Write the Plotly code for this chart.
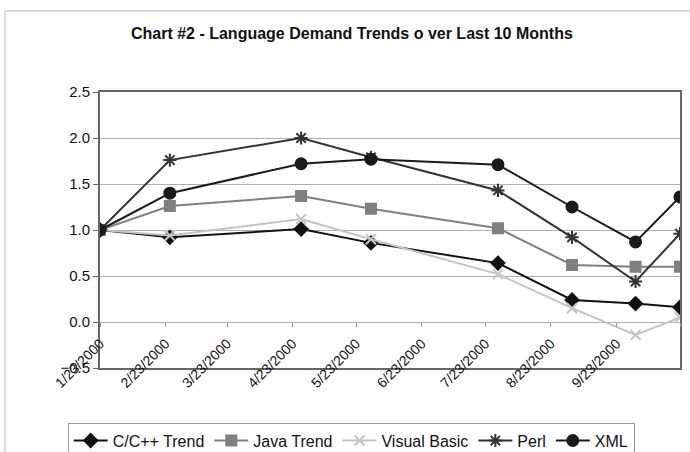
import plotly.graph_objects as go

dates = ["2000-01-23", "2000-02-25", "2000-04-27", "2000-05-30",
         "2000-07-29", "2000-09-02", "2000-10-02", "2000-10-23"]

cpp = [1.0, 0.92, 1.01, 0.86, 0.64, 0.24, 0.20, 0.16]
java = [1.0, 1.26, 1.37, 1.23, 1.02, 0.62, 0.60, 0.60]
vb = [1.0, 0.94, 1.12, 0.90, 0.52, 0.15, -0.14, 0.05]
perl = [1.0, 1.76, 2.00, 1.79, 1.43, 0.92, 0.44, 0.96]
xml = [1.0, 1.40, 1.72, 1.77, 1.71, 1.25, 0.87, 1.36]

tick_dates = ["2000-01-23", "2000-02-23", "2000-03-23", "2000-04-23", "2000-05-23",
              "2000-06-23", "2000-07-23", "2000-08-23", "2000-09-23", "2000-10-23"]
tick_text = ["1/23/2000", "2/23/2000", "3/23/2000", "4/23/2000", "5/23/2000",
             "6/23/2000", "7/23/2000", "8/23/2000", "9/23/2000", ""]

FONT = "Arial, Liberation Sans, sans-serif"

series = [
    ("C/C++ Trend", cpp, "#111111", "diamond", 10),
    ("Java Trend", java, "#808080", "square", 10),
    ("Visual Basic", vb, "#c4c4c4", "x-thin-open", 10),
    ("Perl", perl, "#333333", "asterisk-open", 11),
    ("XML", xml, "#1a1a1a", "circle", 11),
]

fig = go.Figure()
for name, vals, col, sym, size in series:
    fig.add_trace(go.Scatter(
        x=dates, y=vals, name=name, mode="lines+markers",
        line=dict(color=col, width=2),
        marker=dict(symbol=sym, size=size, color=col,
                    line=dict(color=col, width=2)),
    ))

# invisible helper trace so the crossing axis (ticks on the 0.0 line) is drawn
fig.add_trace(go.Scatter(x=dates, y=cpp, xaxis="x2", mode="lines",
                         line=dict(width=0, color="rgba(0,0,0,0)"),
                         showlegend=False, hoverinfo="skip"))

fig.update_layout(
    width=690, height=452,
    margin=dict(l=100, r=10, t=92, b=84, autoexpand=False),
    paper_bgcolor="white", plot_bgcolor="white",
    font=dict(family=FONT, color="#111111", size=14),
    title=dict(text="<b>Chart #2 - Language Demand Trends o ver Last 10 Months</b>",
               x=0.51, xanchor="center", y=0.927, yanchor="middle",
               font=dict(size=16, family=FONT, color="#111111")),
    showlegend=True,
    legend=dict(orientation="h", xref="container", yref="container",
                x=0.509, xanchor="center", y=0.065, yanchor="top",
                bordercolor="#999999", borderwidth=1, bgcolor="white",
                font=dict(size=16, family=FONT), itemwidth=34,
                tracegroupgap=0),
    xaxis=dict(type="date", range=["2000-01-23", "2000-10-23"], automargin=False,
               tickmode="array", tickvals=tick_dates, ticktext=tick_text,
               tickangle=-45, ticks="", showgrid=False,
               showline=True, linecolor="#666666", linewidth=2, mirror=True,
               ticklabelstandoff=-40, tickfont=dict(size=14, family=FONT)),
    xaxis2=dict(type="date", overlaying="x", matches="x", anchor="free",
                position=1/6, tickmode="array", tickvals=tick_dates,
                showticklabels=False, ticks="outside", ticklen=4,
                tickcolor="#999999", showgrid=False, showline=False,
                automargin=False),
    yaxis=dict(range=[-0.5, 2.5], tickmode="array", automargin=False,
               tickvals=[-0.5, 0, 0.5, 1.0, 1.5, 2.0, 2.5],
               tickformat=".1f", ticks="outside", ticklen=5, tickcolor="#666666",
               showgrid=True, gridcolor="#b0b0b0", gridwidth=1,
               showline=True, linecolor="#666666", linewidth=2, mirror=True,
               zeroline=False, tickfont=dict(size=15, family=FONT)),
    shapes=[dict(type="rect", xref="paper", yref="paper",
                 x0=-0.1638, x1=1.05, y0=-0.45, y1=1.2935,
                 line=dict(color="#bbbbbb", width=1), layer="below")],
)

fig.write_html("out.html")
